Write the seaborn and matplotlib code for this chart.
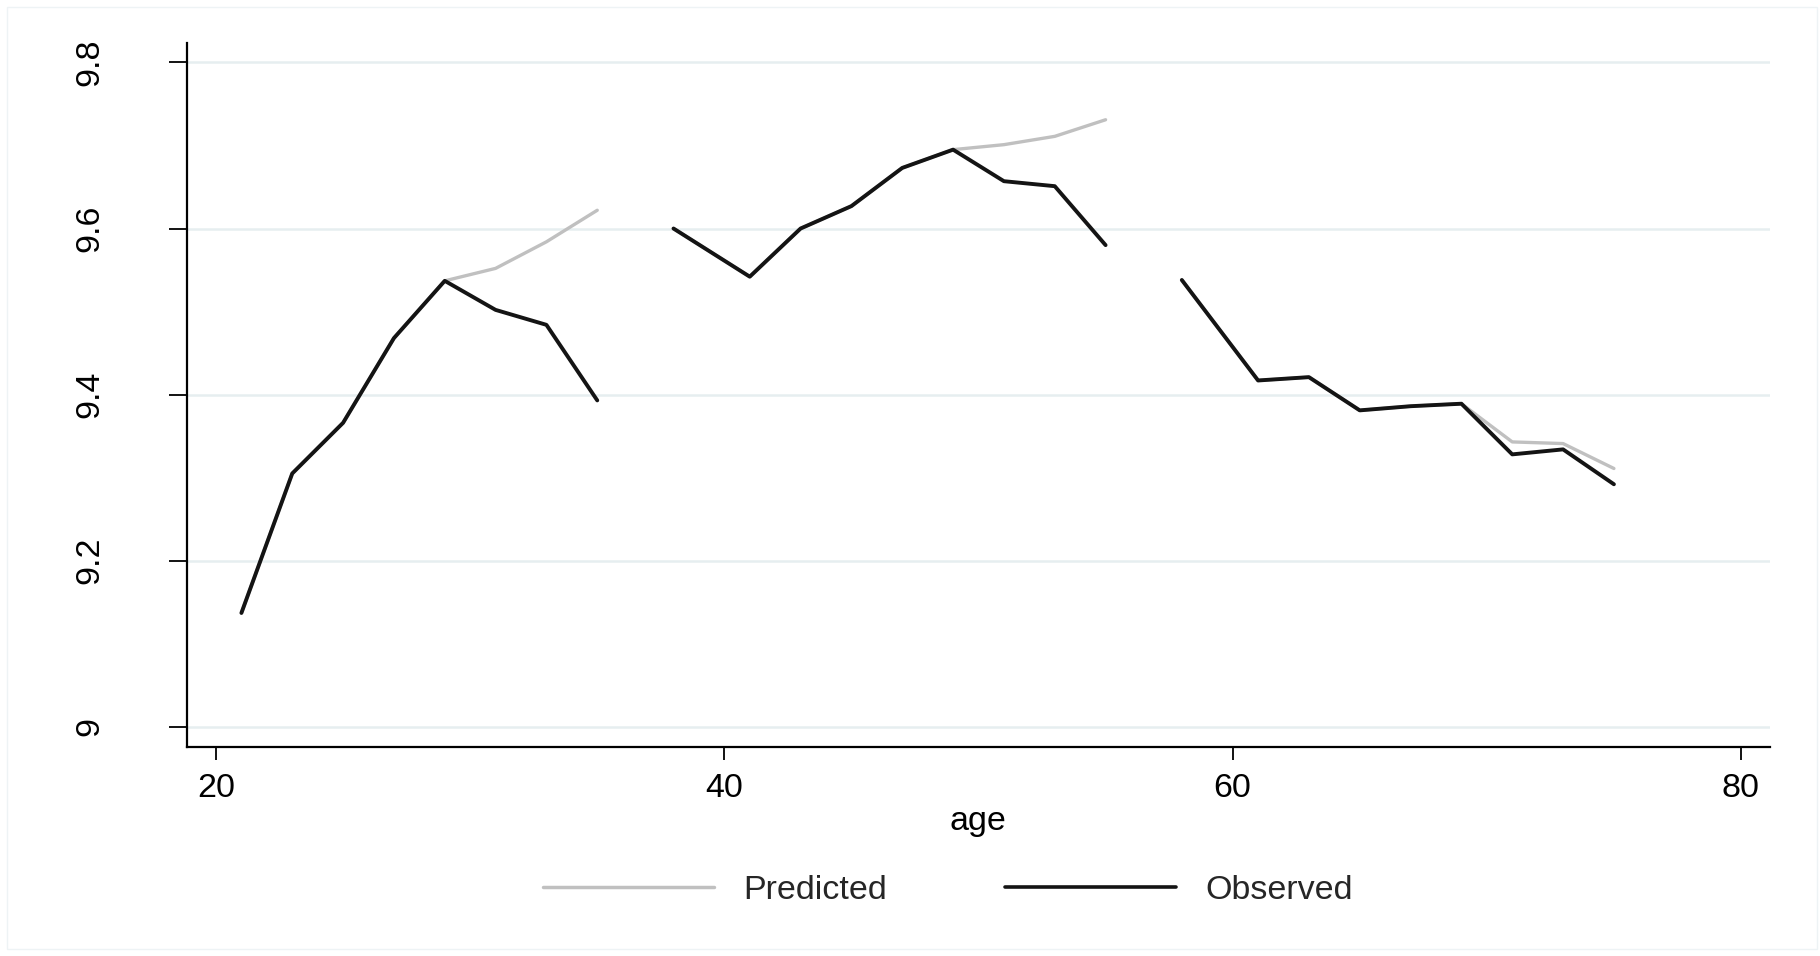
import numpy as np
import pandas as pd
import matplotlib
matplotlib.use("Agg")
import matplotlib.pyplot as plt
import seaborn as sns
from matplotlib.patches import Rectangle

# ---- data ----
ages = [21, 23, 25, 27, 29, 31, 33, 35,
        38, 41, 43, 45, 47, 49, 51, 53, 55,
        58, 61, 63, 65, 67, 69, 71, 73, 75]
segments = [1] * 8 + [2] * 9 + [3] * 9
observed = [9.137, 9.305, 9.366, 9.468, 9.537, 9.502, 9.484, 9.393,
            9.600, 9.542, 9.600, 9.627, 9.673, 9.695, 9.657, 9.651, 9.580,
            9.538, 9.417, 9.421, 9.381, 9.386, 9.389, 9.328, 9.334, 9.292]
predicted = [9.137, 9.305, 9.366, 9.468, 9.537, 9.552, 9.584, 9.622,
             9.600, 9.542, 9.600, 9.627, 9.673, 9.695, 9.701, 9.711, 9.731,
             9.538, 9.417, 9.421, 9.381, 9.386, 9.389, 9.343, 9.341, 9.311]
x_ticks = [20, 40, 60, 80]
y_ticks = [9.0, 9.2, 9.4, 9.6, 9.8]
y_tick_labels = ["9", "9.2", "9.4", "9.6", "9.8"]
series_names = ["Predicted", "Observed"]
x_label = "age"

df_pred = pd.DataFrame({"age": ages, "value": predicted, "segment": segments,
                        "series": series_names[0]})
df_obs = pd.DataFrame({"age": ages, "value": observed, "segment": segments,
                       "series": series_names[1]})

sns.set_style("ticks")
plt.rcParams["font.family"] = ["Liberation Sans", "DejaVu Sans"]

FS = 24.5
W, H = 1820, 956
fig = plt.figure(figsize=(W / 100, H / 100), dpi=100)
fig.patch.set_facecolor("white")

left, right = 186.7 / W, 1770 / W
bottom, top = 1 - 747.3 / H, 1 - 42.7 / H
ax = fig.add_axes([left, bottom, right - left, top - bottom])

grid_color = "#e6eef0"
for yv in y_ticks:
    ax.axhline(yv, color=grid_color, lw=1.8, zorder=0)

sns.lineplot(data=df_pred, x="age", y="value", hue="series", units="segment",
             estimator=None, palette={series_names[0]: "#c0c0c0"},
             linewidth=2.4, ax=ax, zorder=2)
sns.lineplot(data=df_obs, x="age", y="value", hue="series", units="segment",
             estimator=None, palette={series_names[1]: "#141414"},
             linewidth=2.8, ax=ax, zorder=3)

ax.set_xlim(18.847, 81.141)
ax.set_ylim(8.9752, 9.8238)
ax.set_xticks(x_ticks)
ax.set_xticklabels([str(t) for t in x_ticks])
ax.set_yticks(y_ticks)
ax.set_yticklabels(y_tick_labels, rotation=90, va="center")

for s in ["top", "right"]:
    ax.spines[s].set_visible(False)
for s in ["left", "bottom"]:
    ax.spines[s].set_linewidth(1.6)
    ax.spines[s].set_color("black")

ax.tick_params(axis="x", length=9.7, width=1.3, color="black", pad=9.0,
               labelsize=FS, labelcolor="black")
ax.tick_params(axis="y", length=13, width=1.3, color="black", pad=45.5,
               labelsize=FS, labelcolor="black")
ax.set_xlabel(x_label, fontsize=FS, labelpad=1.5, color="black")
ax.set_ylabel("")
ax.set_facecolor("white")

handles, labels = ax.get_legend_handles_labels()
leg = ax.legend(handles, labels, loc="center", bbox_to_anchor=(948 / W, 1 - 890.5 / H),
                bbox_transform=fig.transFigure, ncol=2, frameon=False, fontsize=FS,
                handlelength=5.02, handletextpad=0.88, columnspacing=3.45,
                borderpad=0, borderaxespad=0)
for line, lw in zip(leg.get_lines(), [2.5, 2.6]):
    line.set_linewidth(lw)

fig.patches.append(Rectangle((7 / W, 7 / H), (1817 - 7) / W, (949 - 7) / H,
                             transform=fig.transFigure, fill=False,
                             edgecolor="#eef3f5", linewidth=1.0))

fig.savefig("out.png", dpi=100, facecolor="white")
